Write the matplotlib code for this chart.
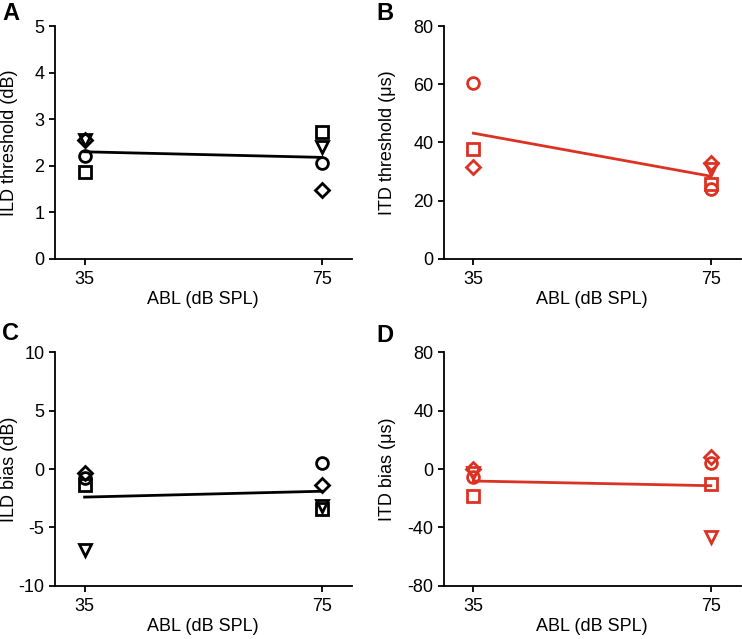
import matplotlib
matplotlib.use("Agg")
import matplotlib.pyplot as plt

plt.rcParams['font.family'] = ['Liberation Sans', 'DejaVu Sans']
plt.rcParams['axes.unicode_minus'] = False

ABL = [35, 75]
MARKERS = ['o', 's', 'D', 'v']  # one per subject

# panel A: ILD threshold (dB), rows = subjects, cols = ABL
ild_thr = [[2.2, 2.06], [1.87, 2.73], [2.55, 1.48], [2.55, 2.41]]
ild_thr_fit = [2.30, 2.18]

# panel B: ITD threshold (us); subject 4 has no 35 dB point
itd_thr = [[60.3, 23.9], [37.9, 25.6], [31.5, 32.8], [None, 31.0]]
itd_thr_fit = [43.2, 28.4]

# panel C: ILD bias (dB)
ild_bias = [[-0.8, 0.5], [-1.4, -3.4], [-0.3, -1.4], [-6.9, -3.2]]
ild_bias_fit = [-2.4, -1.9]

# panel D: ITD bias (us)
itd_bias = [[-5.5, 3.9], [-18.3, -10.5], [0.2, 8.5], [-3.0, -46.4]]
itd_bias_fit = [-8.2, -11.4]

RED = '#dc3223'

panels = [
    ('A', ild_thr, ild_thr_fit, 'ILD threshold (dB)', (0, 5), [0, 1, 2, 3, 4, 5], 'black'),
    ('B', itd_thr, itd_thr_fit, 'ITD threshold (\u03bcs)', (0, 80), [0, 20, 40, 60, 80], RED),
    ('C', ild_bias, ild_bias_fit, 'ILD bias (dB)', (-10, 10), [-10, -5, 0, 5, 10], 'black'),
    ('D', itd_bias, itd_bias_fit, 'ITD bias (\u03bcs)', (-80, 80), [-80, -40, 0, 40, 80], RED),
]

rects = [
    [0.074, 0.595, 0.400, 0.364],
    [0.598, 0.595, 0.400, 0.364],
    [0.074, 0.083, 0.400, 0.366],
    [0.598, 0.083, 0.400, 0.366],
]
ylab_x = [-0.125, -0.16, -0.125, -0.16]
letter_pos = [(2, 13), (376, 13), (2, 334), (376, 335)]

W, H = 742, 639
fig = plt.figure(figsize=(7.42, 6.39), dpi=100)

for (letter, vals, fit, ylab, ylim, yticks, col), rect, lx, lp in zip(panels, rects, ylab_x, letter_pos):
    ax = fig.add_axes(rect)
    for subj, mk in zip(vals, MARKERS):
        for x, y in zip(ABL, subj):
            if y is None:
                continue
            ax.plot(x, y, marker=mk, ms=8.5 if mk != 'D' else 7, mfc='none',
                    mec=col, mew=2, ls='none', clip_on=False)
    ax.plot(ABL, fit, color=col, lw=2)
    ax.set_xlim(30, 80)
    ax.set_ylim(*ylim)
    ax.set_xticks(ABL)
    ax.set_yticks(yticks)
    ax.spines['top'].set_visible(False)
    ax.spines['right'].set_visible(False)
    for s in ('left', 'bottom'):
        ax.spines[s].set_linewidth(1.3)
    ax.tick_params(direction='out', length=4, width=1.3, labelsize=13)
    ax.tick_params(axis='x', pad=5)
    ax.set_ylabel(ylab, fontsize=13)
    ax.yaxis.set_label_coords(lx, 0.5)
    ax.set_xlabel('ABL (dB SPL)', fontsize=13, labelpad=2)
    fig.text(lp[0] / W, 1 - lp[1] / H, letter, fontsize=17,
             fontweight='bold', ha='left', va='center')

fig.savefig('out.png', dpi=100)
